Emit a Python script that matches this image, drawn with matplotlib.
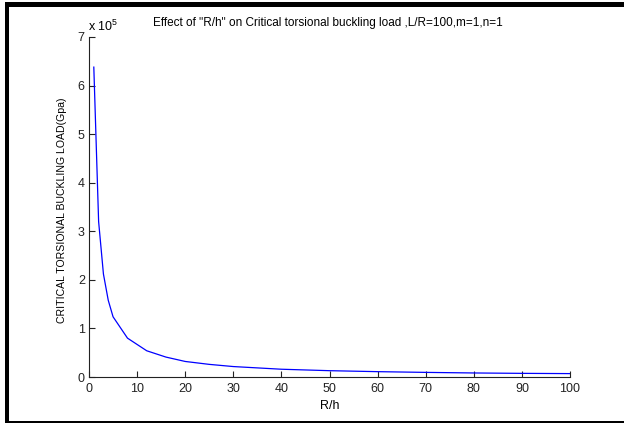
import numpy as np
import matplotlib
matplotlib.use('Agg')
from matplotlib import pyplot as plt
from matplotlib.patches import Rectangle
from matplotlib.ticker import FuncFormatter

# values (load in Gpa, R/h ratio)
r_h = [1, 2, 3, 4, 5, 8, 12, 16, 20, 25, 30, 40, 50, 60, 70, 80, 90, 100]
load = [6.38e5, 3.2e5, 2.12e5, 1.58e5, 1.24e5, 0.80e5, 0.54e5, 0.41e5, 0.32e5,
        0.26e5, 0.215e5, 0.16e5, 0.13e5, 0.11e5, 0.095e5, 0.083e5, 0.075e5, 0.07e5]
x_ticks = [0, 10, 20, 30, 40, 50, 60, 70, 80, 90, 100]
y_ticks = [0, 1e5, 2e5, 3e5, 4e5, 5e5, 6e5, 7e5]

plt.rcParams['font.family'] = ['Liberation Sans', 'DejaVu Sans']
plt.rcParams['mathtext.fontset'] = 'custom'
plt.rcParams['mathtext.rm'] = 'Liberation Sans'

W, H = 624, 423
fig = plt.figure(figsize=(W / 100, H / 100), dpi=100)
ax = fig.add_axes([89 / W, 1 - 377 / H, (570 - 89) / W, (377 - 37) / H])

ax.plot(r_h, load, color='#0000ff', linewidth=0.9)

ax.set_xlim(0, 100)
ax.set_ylim(0, 7e5)
ax.set_xticks(x_ticks)
ax.set_yticks(y_ticks)
ax.yaxis.set_major_formatter(FuncFormatter(lambda v, p: '%d' % round(v / 1e5)))
ax.tick_params(direction='in', length=4.5, width=0.8, labelsize=9, colors='#222222')
ax.tick_params(axis='x', pad=4)
ax.tick_params(axis='y', pad=3)

for s in ['top', 'right']:
    ax.spines[s].set_visible(False)
for s in ['left', 'bottom']:
    ax.spines[s].set_linewidth(0.8)
    ax.spines[s].set_color('#222222')

ax.set_xlabel('R/h', fontsize=9, labelpad=4)
ax.set_ylabel('CRITICAL TORSIONAL BUCKLING LOAD(Gpa)', fontsize=7.6)
ax.yaxis.set_label_coords(-0.046, 0.49)

fig.text(328 / W, 1 - 23 / H,
         'Effect of "R/h" on Critical torsional buckling load ,L/R=100,m=1,n=1',
         fontsize=8.5, ha='center', va='center')
fig.text(88 / W, 1 - 31 / H, r'x 10$^{5}$', fontsize=9, ha='left', va='baseline')

# black frame around the picture (thick top/left, thin bottom)
fig.add_artist(Rectangle((5 / W, 1 - 6.7 / H), 1, 4.7 / H, transform=fig.transFigure,
                         color='black', lw=0))
fig.add_artist(Rectangle((5 / W, 0), 4 / W, 1 - 2 / H, transform=fig.transFigure,
                         color='black', lw=0))
fig.add_artist(Rectangle((5 / W, 0), 1, 2 / H, transform=fig.transFigure,
                         color='black', lw=0))

fig.savefig('out.png', dpi=100)
